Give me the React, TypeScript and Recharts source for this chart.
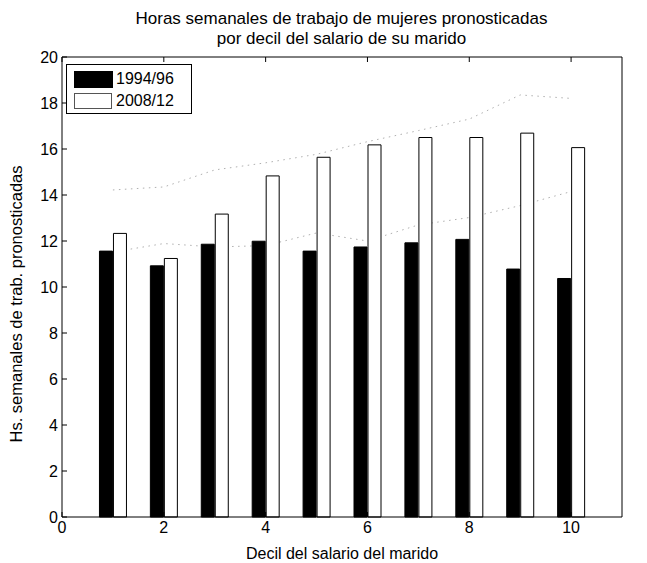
import React from 'react';
import { ComposedChart, Bar, Line, XAxis, YAxis } from 'recharts';

const deciles = [1, 2, 3, 4, 5, 6, 7, 8, 9, 10];
const hours9496 = [11.56, 10.92, 11.86, 11.99, 11.56, 11.74, 11.92, 12.07, 10.78, 10.37];
const hours0812 = [12.33, 11.24, 13.17, 14.83, 15.64, 16.18, 16.5, 16.5, 16.69, 16.06];
const ciUpper = [14.22, 14.35, 15.09, 15.4, 15.77, 16.32, 16.8, 17.3, 18.35, 18.2];
const ciLower = [11.52, 11.89, 11.74, 11.8, 12.35, 12.0, 12.7, 13.02, 13.54, 14.15];
const xTicks = [0, 2, 4, 6, 8, 10];
const yTicks = [0, 2, 4, 6, 8, 10, 12, 14, 16, 18, 20];

const data = deciles.map((d, i) => ({
  decil: d,
  a: hours9496[i],
  b: hours0812[i],
  up: ciUpper[i],
  lo: ciLower[i],
}));

const FONT = '"Liberation Sans", Arial, Helvetica, sans-serif';
const FS = 16;

const LegendBox = () => (
  <div
    style={{
      position: 'absolute',
      left: 58,
      top: 56,
      border: '1px solid #000',
      background: '#fff',
      width: 126,
      height: 50,
      boxSizing: 'border-box',
      fontFamily: FONT,
      fontSize: FS,
      padding: '4px 0 0 7px',
    }}
  >
    <div style={{ display: 'flex', alignItems: 'center', height: 20 }}>
      <div style={{ width: 39, height: 17, background: '#000', marginRight: 3 }} />
      <span>1994/96</span>
    </div>
    <div style={{ display: 'flex', alignItems: 'center', height: 20, marginTop: 2 }}>
      <div style={{ width: 38, height: 16, boxSizing: 'border-box', background: '#fff', border: '1px solid #555', marginRight: 4 }} />
      <span>2008/12</span>
    </div>
  </div>
);

export default function App() {
  const W = 639;
  const H = 555;
  return (
    <div style={{ position: 'relative', width: W, height: H, fontFamily: FONT }}>
      <div style={{ position: 'absolute', left: 54, width: 559, top: 1, textAlign: 'center', fontSize: 17, lineHeight: '20px' }}>
        Horas semanales de trabajo de mujeres pronosticadas
        <br />
        por decil del salario de su marido
      </div>
      <ComposedChart
        width={W}
        height={H}
        data={data}
        margin={{ top: 48, right: 24, bottom: 0, left: 0 }}
        barGap={1}
        barSize={13}
      >
        <XAxis
          xAxisId="b"
          dataKey="decil"
          type="number"
          domain={[0, 11]}
          ticks={xTicks}
          tickSize={-5}
          tickMargin={10}
          height={46}
          stroke="#000"
          tick={{ fill: '#000', fontSize: FS, fontFamily: FONT }}
          label={{ value: 'Decil del salario del marido', position: 'insideBottom', offset: 4, fill: '#000', fontSize: FS, fontFamily: FONT }}
        />
        <XAxis
          xAxisId="t"
          dataKey="decil"
          type="number"
          orientation="top"
          domain={[0, 11]}
          ticks={xTicks}
          tickSize={-5}
          tickFormatter={() => ''}
          height={1}
          stroke="#000"
        />
        <YAxis
          yAxisId="l"
          type="number"
          domain={[0, 20]}
          ticks={yTicks}
          tickSize={-5}
          tickMargin={9}
          width={54}
          stroke="#000"
          tick={{ fill: '#000', fontSize: FS, fontFamily: FONT }}
        />
        <YAxis
          yAxisId="r"
          orientation="right"
          type="number"
          domain={[0, 20]}
          ticks={yTicks}
          tickSize={-5}
          tickFormatter={() => ''}
          width={1}
          stroke="#000"
        />
        <Line xAxisId="b" yAxisId="l" dataKey="up" stroke="#b0b0b0" strokeWidth={1} strokeDasharray="1.5 4.5" dot={false} isAnimationActive={false} zIndex={250} />
        <Line xAxisId="b" yAxisId="l" dataKey="lo" stroke="#b0b0b0" strokeWidth={1} strokeDasharray="1.5 4.5" dot={false} isAnimationActive={false} zIndex={250} />
        <Bar xAxisId="b" yAxisId="l" dataKey="a" fill="#000" stroke="#000" strokeWidth={1} isAnimationActive={false} />
        <Bar xAxisId="b" yAxisId="l" dataKey="b" fill="#fff" stroke="#000" strokeWidth={1} isAnimationActive={false} />
      </ComposedChart>
      <div
        style={{
          position: 'absolute',
          left: 8,
          top: 296,
          transform: 'translate(-50%, -50%) rotate(-90deg)',
          whiteSpace: 'nowrap',
          fontSize: 16.5,
          lineHeight: '18px',
        }}
      >
        Hs. semanales de trab. pronosticadas
      </div>
      <LegendBox />
    </div>
  );
}
